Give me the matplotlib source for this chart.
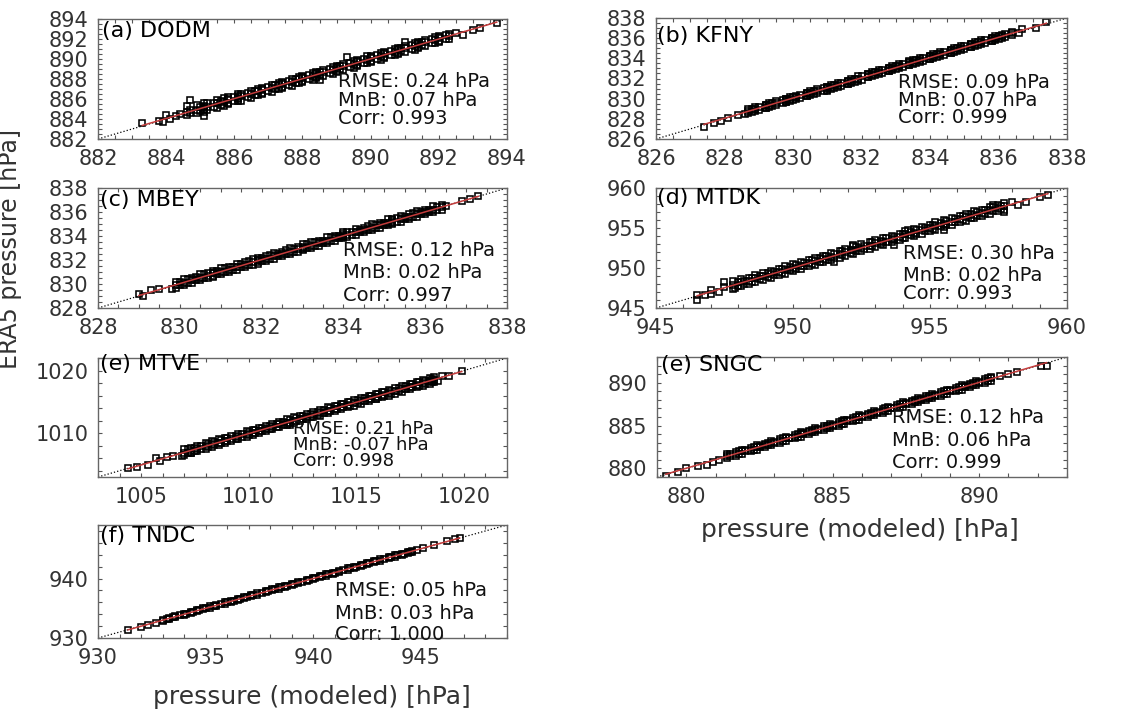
import matplotlib
matplotlib.use("Agg")
import matplotlib.pyplot as plt
import numpy as np
from matplotlib.ticker import MultipleLocator

plt.rcParams['font.family'] = ['DejaVu Sans']

#Station names and statistics
names = ["(a) DODM", "(b) KFNY", "(c) MBEY", "(d) MTDK", "(e) MTVE", "(e) SNGC", "(f) TNDC"]
rmse = [0.24, 0.09, 0.12, 0.30, 0.21, 0.12, 0.05]
mnb = [0.07, 0.07, 0.02, 0.02, -0.07, 0.06, 0.03]
corr = [0.993, 0.999, 0.997, 0.993, 0.998, 0.999, 1.000]

#DODM: modeled (x) vs ERA5 (y), dense band rows + isolated points
dodm_xb = [884.6, 884.9, 885.1, 885.2, 885.5, 885.7, 885.8, 886.1, 886.2, 886.5, 886.7, 886.8, 887.1,
           887.3, 887.4, 887.7, 887.9, 888.0, 888.3, 888.4, 888.6, 888.9, 889.0, 889.2, 889.5, 889.6,
           889.9, 890.0, 890.3, 890.4, 890.7, 890.8, 891.0, 891.3, 891.4, 891.6, 891.9, 892.0, 892.3]
dodm_hi = [885.3, 885.4, 885.6, 885.6, 885.9, 886.1, 886.2, 886.5, 886.5, 886.8, 887.0, 887.1, 887.4,
           887.6, 887.7, 888.0, 888.2, 888.3, 888.6, 888.7, 888.9, 889.2, 889.3, 889.5, 889.8, 889.9,
           890.3, 890.3, 890.6, 890.7, 891.0, 891.1, 891.3, 891.6, 891.7, 891.9, 892.2, 892.3, 892.5]
dodm_mid = [884.7, 884.9, 885.2, 885.2, 885.6, 885.7, 885.9, 886.1, 886.3, 886.5, 886.8, 886.9, 887.1,
            887.4, 887.5, 887.7, 888.0, 888.1, 888.3, 888.5, 888.7, 888.9, 889.1, 889.3, 889.5, 889.7,
            889.9, 890.1, 890.3, 890.5, 890.7, 890.9, 891.1, 891.3, 891.5, 891.7, 891.9, 892.1, 892.3]
dodm_lo = [884.4, 884.6, 884.7, 884.9, 885.1, 885.3, 885.5, 885.8, 885.8, 886.1, 886.4, 886.5, 886.7,
           887.0, 887.1, 887.3, 887.6, 887.7, 887.9, 888.1, 888.3, 888.5, 888.7, 888.9, 889.1, 889.3,
           889.6, 889.7, 889.9, 890.1, 890.4, 890.5, 890.7, 890.9, 891.1, 891.3, 891.6, 891.7, 892.0]
dodm_xb2 = [884.7, 885.0, 885.1, 885.4, 885.6, 885.8, 886.0, 886.1, 886.4, 886.6, 886.8, 887.0, 887.2,
            887.4, 887.6, 887.8, 888.0, 888.2, 888.4, 888.5, 888.8, 889.0, 889.1, 889.4, 889.6, 889.8,
            890.0, 890.2, 890.4, 890.6, 890.8, 890.9, 891.2, 891.4, 891.5, 891.8, 892.0, 892.2]
dodm_uhi = [884.9, 885.2, 885.3, 885.6, 885.8, 886.0, 886.2, 886.3, 886.6, 886.8, 887.0, 887.2, 887.4,
            887.6, 887.8, 888.0, 888.2, 888.4, 888.6, 888.7, 889.0, 889.2, 889.3, 889.6, 889.8, 890.0,
            890.2, 890.4, 890.6, 890.8, 891.0, 891.1, 891.4, 891.6, 891.7, 892.0, 892.2, 892.4]
dodm_ulo = [884.6, 884.8, 885.0, 885.2, 885.4, 885.6, 885.8, 886.0, 886.2, 886.4, 886.6, 886.8, 887.0,
            887.2, 887.4, 887.6, 887.8, 888.0, 888.2, 888.4, 888.6, 888.8, 889.0, 889.2, 889.4, 889.6,
            889.8, 890.0, 890.2, 890.4, 890.6, 890.8, 891.0, 891.2, 891.4, 891.6, 891.8, 892.0]
dodm_xt = [883.3, 883.8, 883.9, 884.0, 884.1, 884.3, 884.4, 884.7, 885.1, 888.5, 889.3, 891.0,
           892.5, 892.7, 893.0, 893.2, 893.7]
dodm_yt = [883.6, 883.8, 883.7, 884.4, 884.0, 884.3, 884.5, 885.9, 884.3, 887.9, 890.2, 891.7,
           892.6, 892.4, 892.9, 893.1, 893.6]

#KFNY
kfny_xb = [828.7, 828.9, 829.2, 829.3, 829.5, 829.8, 829.9, 830.1, 830.4, 830.5, 830.7, 831.0, 831.1,
           831.3, 831.6, 831.7, 831.9, 832.2, 832.3, 832.5, 832.8, 832.9, 833.1, 833.4, 833.5, 833.7,
           834.0, 834.1, 834.3, 834.6, 834.7, 834.9, 835.2, 835.3, 835.5, 835.8, 835.9, 836.1, 836.4]
kfny_hi = [829.0, 829.2, 829.4, 829.6, 829.8, 830.0, 830.2, 830.3, 830.6, 830.8, 831.0, 831.2, 831.4,
           831.6, 831.8, 832.0, 832.2, 832.4, 832.6, 832.8, 833.0, 833.2, 833.4, 833.7, 833.8, 834.0,
           834.2, 834.4, 834.6, 834.8, 835.0, 835.2, 835.4, 835.6, 835.8, 836.0, 836.2, 836.3, 836.6]
kfny_mid = [828.8, 829.0, 829.3, 829.4, 829.6, 829.9, 830.0, 830.2, 830.5, 830.6, 830.8, 831.1, 831.2,
            831.4, 831.7, 831.8, 832.0, 832.3, 832.4, 832.6, 832.9, 833.0, 833.2, 833.5, 833.6, 833.8,
            834.1, 834.2, 834.4, 834.7, 834.8, 835.0, 835.3, 835.4, 835.6, 835.9, 836.0, 836.2, 836.5]
kfny_lo = [828.6, 828.8, 829.1, 829.2, 829.4, 829.7, 829.8, 830.0, 830.3, 830.4, 830.6, 830.8, 831.0,
           831.2, 831.5, 831.6, 831.8, 832.1, 832.2, 832.4, 832.7, 832.8, 833.0, 833.3, 833.4, 833.6,
           833.9, 834.0, 834.2, 834.5, 834.6, 834.8, 835.1, 835.2, 835.4, 835.7, 835.8, 836.0, 836.3]
kfny_xb2 = [828.8, 829.0, 829.2, 829.4, 829.7, 829.8, 830.0, 830.2, 830.4, 830.6, 830.9, 831.0, 831.2,
            831.4, 831.6, 831.8, 832.0, 832.2, 832.4, 832.6, 832.8, 833.0, 833.2, 833.4, 833.6, 833.8,
            834.0, 834.2, 834.4, 834.6, 834.8, 835.0, 835.2, 835.4, 835.6, 835.8, 836.0, 836.2]
kfny_uhi = [829.0, 829.2, 829.4, 829.6, 829.9, 830.0, 830.2, 830.4, 830.6, 830.8, 831.1, 831.2, 831.4,
            831.6, 831.8, 832.0, 832.2, 832.4, 832.6, 832.8, 833.0, 833.2, 833.4, 833.6, 833.8, 834.0,
            834.2, 834.4, 834.6, 834.8, 835.0, 835.2, 835.4, 835.6, 835.8, 836.0, 836.2, 836.4]
kfny_ulo = [828.7, 828.9, 829.1, 829.3, 829.6, 829.7, 829.9, 830.1, 830.3, 830.5, 830.8, 830.9, 831.1,
            831.3, 831.5, 831.7, 831.9, 832.1, 832.3, 832.5, 832.7, 832.9, 833.1, 833.3, 833.5, 833.7,
            833.9, 834.1, 834.3, 834.5, 834.7, 834.9, 835.1, 835.3, 835.5, 835.7, 835.9, 836.1]
kfny_xt = [827.4, 827.7, 827.9, 828.1, 828.4, 828.6, 836.6, 836.7, 837.1, 837.4]
kfny_yt = [827.2, 827.6, 827.8, 828.1, 828.4, 828.5, 836.5, 836.9, 837.0, 837.6]

#MBEY
mbey_xb = [829.9, 830.1, 830.3, 830.5, 830.7, 830.8, 831.0, 831.2, 831.4, 831.6, 831.8, 831.9, 832.1,
           832.3, 832.5, 832.7, 832.9, 833.0, 833.2, 833.4, 833.6, 833.8, 834.0, 834.1, 834.3, 834.5,
           834.7, 834.9, 835.1, 835.2, 835.4, 835.6, 835.8, 836.0, 836.2, 836.4]
mbey_hi = [830.2, 830.4, 830.5, 830.8, 830.9, 831.1, 831.3, 831.4, 831.7, 831.8, 832.1, 832.2, 832.3,
           832.6, 832.7, 833.0, 833.1, 833.3, 833.5, 833.6, 833.9, 834.0, 834.3, 834.3, 834.6, 834.7,
           835.0, 835.1, 835.4, 835.4, 835.7, 835.8, 836.1, 836.2, 836.5, 836.6]
mbey_mid = [829.9, 830.1, 830.3, 830.5, 830.7, 830.9, 831.0, 831.2, 831.4, 831.6, 831.8, 832.0, 832.1,
            832.3, 832.5, 832.7, 832.9, 833.0, 833.2, 833.4, 833.6, 833.8, 834.0, 834.1, 834.3, 834.5,
            834.7, 834.9, 835.1, 835.2, 835.4, 835.6, 835.8, 836.0, 836.2, 836.4]
mbey_lo = [829.7, 829.9, 830.1, 830.3, 830.5, 830.6, 830.8, 831.0, 831.2, 831.4, 831.6, 831.7, 831.9,
           832.1, 832.3, 832.5, 832.7, 832.8, 833.0, 833.2, 833.4, 833.6, 833.8, 833.9, 834.1, 834.3,
           834.5, 834.7, 834.9, 835.0, 835.2, 835.4, 835.6, 835.8, 836.0, 836.2]
mbey_xb2 = [830.0, 830.2, 830.4, 830.6, 830.8, 830.9, 831.1, 831.3, 831.5, 831.7, 831.9, 832.0, 832.2,
            832.4, 832.6, 832.8, 833.0, 833.1, 833.3, 833.5, 833.7, 833.9, 834.0, 834.2, 834.4, 834.6,
            834.8, 835.0, 835.2, 835.3, 835.5, 835.7, 835.9, 836.1, 836.3]
mbey_uhi = [830.2, 830.4, 830.6, 830.8, 830.9, 831.1, 831.3, 831.4, 831.7, 831.9, 832.0, 832.2, 832.4,
            832.5, 832.8, 832.9, 833.1, 833.3, 833.5, 833.6, 833.9, 834.0, 834.2, 834.3, 834.5, 834.8,
            834.9, 835.1, 835.3, 835.5, 835.6, 835.9, 836.0, 836.2, 836.4]
mbey_ulo = [829.9, 830.1, 830.3, 830.5, 830.7, 830.8, 831.0, 831.2, 831.4, 831.6, 831.8, 831.9, 832.1,
            832.3, 832.5, 832.7, 832.9, 833.0, 833.2, 833.4, 833.6, 833.8, 833.9, 834.1, 834.3, 834.5,
            834.7, 834.9, 835.1, 835.2, 835.4, 835.6, 835.8, 836.0, 836.2]
mbey_xt = [829.0, 829.1, 829.3, 829.5, 829.8, 836.5, 836.9, 837.1, 837.3]
mbey_yt = [829.2, 829.0, 829.5, 829.6, 829.6, 836.5, 836.9, 837.1, 837.3]

#MTDK
mtdk_xb = [947.8, 948.1, 948.4, 948.6, 948.9, 949.2, 949.5, 949.7, 950.0, 950.3, 950.6, 950.8, 951.1,
           951.4, 951.7, 951.9, 952.2, 952.5, 952.8, 953.0, 953.3, 953.6, 953.9, 954.1, 954.4, 954.7,
           955.0, 955.2, 955.5, 955.8, 956.1, 956.3, 956.6, 956.9, 957.2, 957.5, 957.7]
mtdk_hi = [948.4, 948.6, 948.8, 949.1, 949.4, 949.6, 949.9, 950.2, 950.5, 950.7, 951.0, 951.3, 951.5,
           951.9, 952.1, 952.4, 952.7, 953.0, 953.2, 953.5, 953.8, 954.0, 954.3, 954.6, 954.9, 955.1,
           955.4, 955.7, 956.0, 956.2, 956.5, 956.8, 957.1, 957.3, 957.6, 957.9, 958.1]
mtdk_mid = [947.9, 948.2, 948.4, 948.7, 949.0, 949.2, 949.5, 949.8, 950.0, 950.3, 950.6, 950.9, 951.1,
            951.4, 951.7, 952.0, 952.2, 952.5, 952.8, 953.1, 953.3, 953.6, 953.9, 954.2, 954.4, 954.7,
            955.0, 955.3, 955.5, 955.8, 956.1, 956.4, 956.6, 956.9, 957.2, 957.5, 957.7]
mtdk_lo = [947.4, 947.7, 948.0, 948.2, 948.5, 948.8, 949.1, 949.3, 949.6, 949.9, 950.2, 950.4, 950.7,
           951.0, 951.3, 951.5, 951.8, 952.1, 952.4, 952.6, 952.9, 953.2, 953.5, 953.7, 954.0, 954.3,
           954.6, 954.8, 955.1, 955.4, 955.7, 955.9, 956.2, 956.5, 956.8, 957.1, 957.3]
mtdk_xb2 = [948.0, 948.2, 948.5, 948.8, 949.1, 949.3, 949.6, 949.9, 950.1, 950.4, 950.7, 951.0, 951.2,
            951.5, 951.8, 952.1, 952.3, 952.6, 952.9, 953.2, 953.4, 953.7, 954.0, 954.3, 954.5, 954.8,
            955.1, 955.4, 955.6, 955.9, 956.2, 956.5, 956.7, 957.0, 957.3, 957.6]
mtdk_uhi = [948.3, 948.4, 948.8, 949.0, 949.4, 949.5, 949.9, 950.1, 950.4, 950.6, 951.0, 951.2, 951.5,
            951.7, 952.1, 952.3, 952.6, 952.8, 953.2, 953.4, 953.7, 953.9, 954.3, 954.5, 954.8, 955.0,
            955.4, 955.6, 955.9, 956.1, 956.5, 956.7, 957.0, 957.2, 957.6, 957.8]
mtdk_ulo = [947.8, 948.0, 948.3, 948.6, 948.9, 949.1, 949.4, 949.7, 949.9, 950.2, 950.5, 950.8, 951.0,
            951.3, 951.6, 951.9, 952.1, 952.4, 952.7, 953.0, 953.2, 953.5, 953.8, 954.1, 954.3, 954.6,
            954.9, 955.2, 955.4, 955.7, 956.0, 956.3, 956.5, 956.8, 957.1, 957.4]
mtdk_xt = [946.5, 946.5, 946.8, 947.0, 947.0, 947.3, 947.5, 947.5, 947.9, 951.5, 952.2, 953.7, 954.2,
           955.5, 957.3, 957.7, 958.0, 958.2, 958.5, 959.0, 959.3]
mtdk_yt = [946.0, 946.6, 946.6, 947.2, 946.8, 947.0, 947.6, 948.3, 947.5, 950.8, 952.9, 952.9, 954.8,
           954.8, 957.9, 957.0, 958.3, 957.9, 958.2, 958.9, 959.1]

#MTVE
mtve_xb = [1007.0, 1007.3, 1007.6, 1008.0, 1008.3, 1008.6, 1008.9, 1009.2, 1009.5, 1009.9, 1010.2,
           1010.5, 1010.8, 1011.1, 1011.4, 1011.8, 1012.1, 1012.4, 1012.7, 1013.0, 1013.3, 1013.7,
           1014.0, 1014.3, 1014.6, 1014.9, 1015.2, 1015.6, 1015.9, 1016.2, 1016.5, 1016.8, 1017.1,
           1017.5, 1017.8, 1018.1, 1018.4, 1018.6]
mtve_hi = [1007.4, 1007.7, 1008.0, 1008.4, 1008.7, 1009.0, 1009.3, 1009.6, 1009.9, 1010.3, 1010.5,
           1010.9, 1011.2, 1011.5, 1011.8, 1012.2, 1012.5, 1012.8, 1013.1, 1013.4, 1013.7, 1014.1,
           1014.4, 1014.7, 1015.0, 1015.3, 1015.6, 1016.0, 1016.3, 1016.6, 1016.9, 1017.2, 1017.5,
           1017.9, 1018.2, 1018.5, 1018.8, 1018.9]
mtve_mid = [1006.9, 1007.2, 1007.5, 1007.9, 1008.2, 1008.5, 1008.8, 1009.1, 1009.4, 1009.8, 1010.1,
            1010.4, 1010.7, 1011.0, 1011.4, 1011.7, 1012.0, 1012.3, 1012.6, 1012.9, 1013.2, 1013.6,
            1013.9, 1014.2, 1014.5, 1014.8, 1015.1, 1015.5, 1015.8, 1016.1, 1016.4, 1016.7, 1017.0,
            1017.4, 1017.7, 1018.0, 1018.3, 1018.5]
mtve_lo = [1006.5, 1006.8, 1007.1, 1007.5, 1007.8, 1008.1, 1008.5, 1008.7, 1009.0, 1009.4, 1009.7,
           1010.0, 1010.3, 1010.6, 1011.0, 1011.3, 1011.6, 1011.9, 1012.2, 1012.5, 1012.8, 1013.2,
           1013.5, 1013.8, 1014.1, 1014.4, 1014.7, 1015.1, 1015.4, 1015.7, 1016.0, 1016.3, 1016.6,
           1017.0, 1017.3, 1017.6, 1017.9, 1018.1]
mtve_xb2 = [1007.2, 1007.5, 1007.8, 1008.1, 1008.4, 1008.7, 1009.0, 1009.4, 1009.7, 1010.0, 1010.3,
            1010.6, 1011.0, 1011.3, 1011.6, 1011.9, 1012.2, 1012.5, 1012.9, 1013.2, 1013.5, 1013.8,
            1014.1, 1014.4, 1014.7, 1015.1, 1015.4, 1015.7, 1016.0, 1016.3, 1016.6, 1017.0, 1017.3,
            1017.6, 1017.9, 1018.2, 1018.5]
mtve_uhi = [1007.4, 1007.7, 1008.0, 1008.3, 1008.6, 1008.9, 1009.2, 1009.6, 1009.9, 1010.2, 1010.5,
            1010.8, 1011.2, 1011.5, 1011.8, 1012.1, 1012.4, 1012.7, 1013.1, 1013.4, 1013.7, 1014.0,
            1014.3, 1014.6, 1014.9, 1015.3, 1015.6, 1015.9, 1016.2, 1016.5, 1016.8, 1017.2, 1017.5,
            1017.8, 1018.1, 1018.4, 1018.7]
mtve_ulo = [1006.9, 1007.2, 1007.5, 1007.8, 1008.1, 1008.4, 1008.7, 1009.1, 1009.4, 1009.7, 1010.0,
            1010.3, 1010.7, 1011.0, 1011.3, 1011.6, 1011.9, 1012.2, 1012.6, 1012.9, 1013.2, 1013.5,
            1013.8, 1014.1, 1014.4, 1014.8, 1015.1, 1015.4, 1015.7, 1016.0, 1016.3, 1016.7, 1017.0,
            1017.3, 1017.6, 1017.9, 1018.2]
mtve_xt = [1004.4, 1004.8, 1005.3, 1005.7, 1005.9, 1006.2, 1006.5, 1006.9, 1007.3, 1011.9, 1015.9,
           1018.8, 1019.0, 1019.3, 1019.9]
mtve_yt = [1004.4, 1004.6, 1004.9, 1006.1, 1005.6, 1006.2, 1006.3, 1006.4, 1006.8, 1011.3, 1015.4,
           1018.4, 1019.1, 1019.2, 1020.0]

#SNGC
sngc_xb = [881.4, 881.7, 881.9, 882.2, 882.4, 882.7, 882.9, 883.2, 883.4, 883.7, 883.9, 884.2, 884.4,
           884.7, 884.9, 885.2, 885.4, 885.7, 885.9, 886.2, 886.4, 886.7, 886.9, 887.2, 887.4, 887.7,
           887.9, 888.2, 888.4, 888.7, 888.9, 889.2, 889.4, 889.7, 889.9, 890.2, 890.4]
sngc_hi = [881.7, 881.9, 882.2, 882.4, 882.7, 882.9, 883.2, 883.4, 883.7, 883.9, 884.2, 884.4, 884.7,
           884.9, 885.2, 885.4, 885.7, 885.9, 886.2, 886.4, 886.7, 886.9, 887.2, 887.4, 887.7, 887.9,
           888.2, 888.4, 888.7, 888.9, 889.2, 889.4, 889.7, 889.9, 890.2, 890.4, 890.7]
sngc_mid = [881.5, 881.7, 882.0, 882.2, 882.5, 882.7, 883.0, 883.2, 883.5, 883.7, 884.0, 884.2, 884.5,
            884.7, 885.0, 885.2, 885.5, 885.7, 886.0, 886.2, 886.5, 886.7, 887.0, 887.2, 887.5, 887.7,
            888.0, 888.2, 888.5, 888.7, 889.0, 889.2, 889.5, 889.7, 890.0, 890.2, 890.5]
sngc_lo = [881.2, 881.5, 881.7, 882.0, 882.2, 882.5, 882.7, 883.0, 883.2, 883.5, 883.7, 884.0, 884.2,
           884.5, 884.7, 885.0, 885.2, 885.5, 885.7, 886.0, 886.2, 886.5, 886.7, 887.0, 887.2, 887.5,
           887.7, 888.0, 888.2, 888.5, 888.7, 889.0, 889.2, 889.5, 889.7, 890.0, 890.2]
sngc_xb2 = [881.5, 881.8, 882.0, 882.3, 882.5, 882.8, 883.0, 883.3, 883.5, 883.8, 884.0, 884.3, 884.5,
            884.8, 885.0, 885.3, 885.5, 885.8, 886.0, 886.3, 886.5, 886.8, 887.0, 887.3, 887.5, 887.8,
            888.0, 888.3, 888.5, 888.8, 889.0, 889.3, 889.5, 889.8, 890.0, 890.3]
sngc_uhi = [881.7, 882.0, 882.1, 882.5, 882.6, 883.0, 883.1, 883.5, 883.6, 884.0, 884.1, 884.5, 884.6,
            885.0, 885.1, 885.5, 885.6, 886.0, 886.1, 886.5, 886.6, 887.0, 887.1, 887.5, 887.6, 888.0,
            888.1, 888.5, 888.6, 889.0, 889.1, 889.5, 889.6, 890.0, 890.1, 890.5]
sngc_ulo = [881.4, 881.7, 882.0, 882.2, 882.5, 882.7, 883.0, 883.2, 883.5, 883.7, 884.0, 884.2, 884.5,
            884.7, 885.0, 885.2, 885.5, 885.7, 886.0, 886.2, 886.5, 886.7, 887.0, 887.2, 887.5, 887.7,
            888.0, 888.2, 888.5, 888.7, 889.0, 889.2, 889.5, 889.7, 890.0, 890.2]
sngc_xt = [879.3, 879.7, 880.0, 880.4, 880.7, 880.9, 881.1, 890.7, 891.0, 891.3, 892.1, 892.3]
sngc_yt = [879.1, 879.6, 880.0, 880.3, 880.4, 880.7, 881.0, 890.8, 891.0, 891.2, 891.9, 892.0]

#TNDC
tndc_xb = [933.0, 933.3, 933.6, 934.0, 934.3, 934.6, 934.9, 935.2, 935.5, 935.9, 936.2, 936.5, 936.8,
           937.1, 937.4, 937.8, 938.1, 938.4, 938.7, 939.0, 939.3, 939.7, 940.0, 940.3, 940.6, 940.9,
           941.2, 941.6, 941.9, 942.2, 942.5, 942.8, 943.1, 943.5, 943.8, 944.1, 944.4, 944.6]
tndc_hi = [933.1, 933.4, 933.7, 934.1, 934.4, 934.7, 935.0, 935.3, 935.6, 936.0, 936.3, 936.6, 936.9,
           937.2, 937.5, 937.9, 938.2, 938.5, 938.8, 939.1, 939.4, 939.8, 940.1, 940.4, 940.7, 941.0,
           941.3, 941.7, 942.0, 942.3, 942.6, 942.9, 943.2, 943.6, 943.9, 944.2, 944.5, 944.7]
tndc_lo = [932.9, 933.2, 933.5, 933.9, 934.2, 934.5, 934.8, 935.1, 935.4, 935.8, 936.1, 936.4, 936.7,
           937.0, 937.3, 937.7, 938.0, 938.3, 938.6, 938.9, 939.2, 939.6, 939.9, 940.2, 940.5, 940.8,
           941.1, 941.5, 941.8, 942.1, 942.4, 942.7, 943.0, 943.4, 943.7, 944.0, 944.3, 944.5]
tndc_xb2 = [933.2, 933.5, 933.8, 934.1, 934.4, 934.7, 935.0, 935.4, 935.7, 936.0, 936.3, 936.6, 936.9,
            937.2, 937.6, 937.9, 938.2, 938.5, 938.8, 939.1, 939.5, 939.8, 940.1, 940.4, 940.7, 941.0,
            941.4, 941.7, 942.0, 942.3, 942.6, 942.9, 943.3, 943.6, 943.9, 944.2, 944.5]
tndc_umid = [933.2, 933.5, 933.8, 934.1, 934.4, 934.7, 935.0, 935.4, 935.7, 936.0, 936.3, 936.6, 936.9,
             937.2, 937.6, 937.9, 938.2, 938.5, 938.8, 939.1, 939.5, 939.8, 940.1, 940.4, 940.7, 941.0,
             941.4, 941.7, 942.0, 942.3, 942.6, 942.9, 943.3, 943.6, 943.9, 944.2, 944.5]
tndc_xt = [931.4, 932.0, 932.3, 932.7, 944.8, 945.1, 945.6, 946.2, 946.6, 946.8]
tndc_yt = [931.3, 931.9, 932.2, 932.6, 944.8, 945.1, 945.6, 946.3, 946.7, 946.8]

#Band groups: (x list, list of ERA5 rows on that x list)
bands = [[(dodm_xb, [dodm_hi, dodm_mid, dodm_lo]), (dodm_xb2, [dodm_uhi, dodm_ulo])],
         [(kfny_xb, [kfny_hi, kfny_mid, kfny_lo]), (kfny_xb2, [kfny_uhi, kfny_ulo])],
         [(mbey_xb, [mbey_hi, mbey_mid, mbey_lo]), (mbey_xb2, [mbey_uhi, mbey_ulo])],
         [(mtdk_xb, [mtdk_hi, mtdk_mid, mtdk_lo]), (mtdk_xb2, [mtdk_uhi, mtdk_ulo])],
         [(mtve_xb, [mtve_hi, mtve_mid, mtve_lo]), (mtve_xb2, [mtve_uhi, mtve_ulo])],
         [(sngc_xb, [sngc_hi, sngc_mid, sngc_lo]), (sngc_xb2, [sngc_uhi, sngc_ulo])],
         [(tndc_xb, [tndc_hi, tndc_lo]), (tndc_xb2, [tndc_umid])]]
tail_x = [dodm_xt, kfny_xt, mbey_xt, mtdk_xt, mtve_xt, sngc_xt, tndc_xt]
tail_y = [dodm_yt, kfny_yt, mbey_yt, mtdk_yt, mtve_yt, sngc_yt, tndc_yt]

#Axis settings
limits = [(882, 894), (826, 838), (828, 838), (945, 960), (1003, 1022), (879, 893), (930, 949)]
xticks = [np.arange(882, 895, 2), np.arange(826, 839, 2), np.arange(828, 839, 2), [945, 950, 955, 960],
          [1005, 1010, 1015, 1020], [880, 885, 890], [930, 935, 940, 945]]
yticks = [np.arange(882, 895, 2), np.arange(826, 839, 2), np.arange(828, 839, 2), [945, 950, 955, 960],
          [1010, 1020], [880, 885, 890], [930, 940]]
minor_x = [0.5, 0.5, 0.5, 1, 1, 1, 1]
minor_y = [0.5, 0.5, 0.5, 1, 2, 1, 2]

#Layout in pixels: left, top, right, bottom
W, H = 1138, 712
boxes = [(98, 19, 507, 139), (656, 18, 1067, 139), (98, 188, 507, 308), (656, 188, 1067, 308),
         (98, 358, 507, 477), (657, 357, 1067, 477), (98, 525, 507, 638)]
title_pos = [(0.01, 0.985), (0.003, 0.93), (0.005, 0.98), (0.003, 1.0), (0.005, 1.03), (0.01, 1.017),
             (0.005, 0.995)]
stat_x = [0.587, 0.589, 0.60, 0.60, 0.477, 0.573, 0.58]
stat_y = [(0.483, 0.325, 0.167), (0.463, 0.322, 0.174), (0.483, 0.292, 0.108), (0.458, 0.275, 0.117),
          (0.405, 0.27, 0.135), (0.492, 0.308, 0.125), (0.416, 0.221, 0.03)]
stat_size = [14, 14, 14, 14, 13, 14, 14]

fig = plt.figure(figsize=(W/100, H/100), dpi=100)
for i in range(len(names)):
  l, t, r, b = boxes[i]
  ax = fig.add_axes([l/W, 1-b/H, (r-l)/W, (b-t)/H])
  xs = list(tail_x[i]); ys = list(tail_y[i])
  for bx, rows in bands[i]:
    for row in rows:
      xs += bx; ys += row
  xs = np.array(xs); ys = np.array(ys)
  lo, hi = limits[i]
  #1:1 line
  ax.plot([lo, hi], [lo, hi], ":", color="black", lw=0.9, zorder=1)
  #Scatter
  ax.plot(xs, ys, "s", ms=4.2, mfc="none", mec="black", mew=1.15, zorder=2)
  #Linear fit
  k, c = np.polyfit(xs, ys, 1)
  xf = np.array([xs.min(), xs.max()])
  ax.plot(xf, k*xf+c, "-", color="#c43c3c", lw=1.1, zorder=3)
  ax.set_xlim(lo, hi); ax.set_ylim(lo, hi)
  ax.set_xticks(xticks[i]); ax.set_yticks(yticks[i])
  ax.xaxis.set_minor_locator(MultipleLocator(minor_x[i]))
  ax.yaxis.set_minor_locator(MultipleLocator(minor_y[i]))
  ax.tick_params(which="both", direction="in", top=True, right=True, length=3, width=0.8,
                 color="#555555", labelcolor="#333333", labelsize=15)
  ax.tick_params(axis="x", pad=7)
  ax.tick_params(axis="y", pad=7)
  for sp in ax.spines.values():
    sp.set_color("#666666"); sp.set_linewidth(1.0)
  ax.text(title_pos[i][0], title_pos[i][1], names[i], transform=ax.transAxes, fontsize=16,
          va="top", ha="left", color="black")
  stats = ["RMSE: {0:.2f} hPa".format(rmse[i]), "MnB: {0:.2f} hPa".format(mnb[i]),
           "Corr: {0:.3f}".format(corr[i])]
  for s, yy in zip(stats, stat_y[i]):
    ax.text(stat_x[i], yy, s, transform=ax.transAxes, fontsize=stat_size[i], va="center",
            ha="left", color="#111111")

fig.text(0.009, 0.65, "ERA5 pressure [hPa]", rotation=90, ha="center", va="center", fontsize=17,
         color="#333333")
fig.text(0.756, 0.256, "pressure (modeled) [hPa]", ha="center", va="center", fontsize=18,
         color="#333333")
fig.text(0.274, 0.021, "pressure (modeled) [hPa]", ha="center", va="center", fontsize=18,
         color="#333333")
fig.savefig("out.png", dpi=100)
